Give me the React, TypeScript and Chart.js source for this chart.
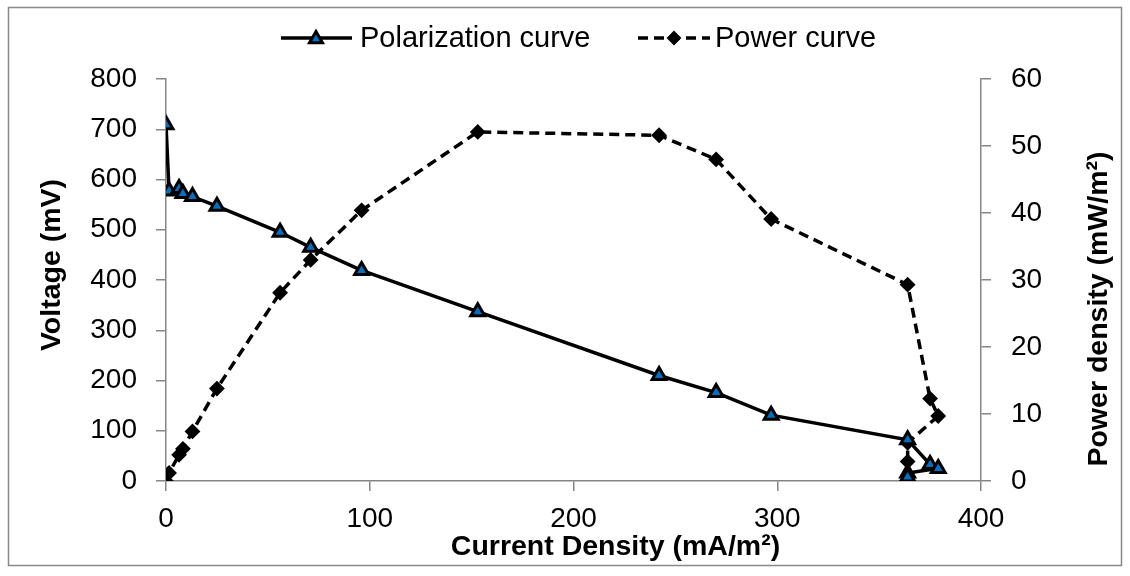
import React, { useEffect, useRef } from "react";
import { Chart, registerables } from "chart.js";

Chart.register(...registerables);

// ---- data ----
const currentDensity = [0, 1.5, 6.4, 8.3, 13, 25, 56, 71, 96, 153, 242, 270, 297, 364, 375, 379, 364, 364];
const voltage = [709, 577, 582, 572, 566, 547, 495, 465, 419, 337, 210, 176, 131, 82, 33, 25, 16, 8];
const powerDensity = [0, 1.2, 3.9, 4.8, 7.4, 13.8, 28.1, 33.0, 40.4, 52.1, 51.6, 48.0, 39.1, 29.3, 12.3, 9.7, 5.7, 2.9];

const xTickValues = [0, 100, 200, 300, 400];
const voltageTickValues = [0, 100, 200, 300, 400, 500, 600, 700, 800];
const powerTickValues = [0, 10, 20, 30, 40, 50, 60];

const seriesNames = ["Polarization curve", "Power curve"];
const xTitle = "Current Density (mA/m²)";
const yTitle = "Voltage (mV)";
const y1Title = "Power density (mW/m²)";

const FONT = "'Liberation Sans', Arial, sans-serif";
const AXIS_COLOR = "#868686";
const BLUE = "#0070C0";

const W = 1130;
const H = 576;

function drawTriangle(ctx: CanvasRenderingContext2D, x: number, y: number, r: number) {
  ctx.beginPath();
  ctx.moveTo(x, y - r);
  ctx.lineTo(x + r * 0.866, y + r * 0.5);
  ctx.lineTo(x - r * 0.866, y + r * 0.5);
  ctx.closePath();
  ctx.fillStyle = BLUE;
  ctx.fill();
  ctx.lineWidth = 3;
  ctx.strokeStyle = "#000";
  ctx.lineJoin = "miter";
  ctx.stroke();
}

function drawDiamond(ctx: CanvasRenderingContext2D, x: number, y: number, r: number) {
  ctx.beginPath();
  ctx.moveTo(x, y - r);
  ctx.lineTo(x + r, y);
  ctx.lineTo(x, y + r);
  ctx.lineTo(x - r, y);
  ctx.closePath();
  ctx.fillStyle = "#000";
  ctx.fill();
  ctx.lineWidth = 2;
  ctx.strokeStyle = "#000";
  ctx.stroke();
}

const framePlugin = {
  id: "frame",
  beforeDraw(chart: any) {
    const ctx = chart.ctx as CanvasRenderingContext2D;
    ctx.save();
    ctx.fillStyle = "#fff";
    ctx.fillRect(0, 0, chart.width, chart.height);
    ctx.strokeStyle = "#898989";
    ctx.lineWidth = 1.5;
    ctx.strokeRect(8.5, 7.5, chart.width - 17, chart.height - 18);
    ctx.restore();
  },
};

const titlesAndLegendPlugin = {
  id: "titlesAndLegend",
  afterDraw(chart: any) {
    const ctx = chart.ctx as CanvasRenderingContext2D;
    const area = chart.chartArea;
    ctx.save();
    ctx.fillStyle = "#000";
    ctx.font = `bold 28.5px ${FONT}`;
    ctx.textAlign = "center";
    ctx.textBaseline = "middle";
    // x title
    ctx.fillText(xTitle, (area.left + area.right) / 2 + 42, area.bottom + 66);
    // left y title
    ctx.save();
    ctx.translate(52, (area.top + area.bottom) / 2 - 15);
    ctx.rotate(-Math.PI / 2);
    ctx.fillText(yTitle, 0, 0);
    ctx.restore();
    // right y title
    ctx.save();
    ctx.translate(1099, (area.top + area.bottom) / 2 + 29);
    ctx.rotate(-Math.PI / 2);
    ctx.fillText(y1Title, 0, 0);
    ctx.restore();

    // legend
    const ly = 38;
    ctx.font = `29px ${FONT}`;
    ctx.textAlign = "left";
    // polarization item
    ctx.beginPath();
    ctx.setLineDash([]);
    ctx.lineWidth = 3.5;
    ctx.strokeStyle = "#000";
    ctx.moveTo(281, ly);
    ctx.lineTo(352, ly);
    ctx.stroke();
    drawTriangle(ctx, 316, ly + 1, 7.5);
    ctx.fillStyle = "#000";
    ctx.fillText(seriesNames[0], 360, ly + 1);
    // power item
    ctx.beginPath();
    ctx.setLineDash([10, 6]);
    ctx.lineWidth = 3.5;
    ctx.strokeStyle = "#000";
    ctx.moveTo(638, ly);
    ctx.lineTo(710, ly);
    ctx.stroke();
    ctx.setLineDash([]);
    drawDiamond(ctx, 674, ly, 6);
    ctx.fillStyle = "#000";
    ctx.fillText(seriesNames[1], 715, ly + 1);
    ctx.restore();
  },
};

export default function App() {
  const canvasRef = useRef<HTMLCanvasElement | null>(null);

  useEffect(() => {
    const canvas = canvasRef.current;
    if (!canvas) return;

    const polarizationPoints = currentDensity.map((x, i) => ({ x, y: voltage[i] }));
    const powerPoints = currentDensity.map((x, i) => ({ x, y: powerDensity[i] }));

    const tickFont = { family: FONT, size: 28 };

    const chart = new Chart(canvas, {
      type: "scatter",
      data: {
        datasets: [
          {
            label: seriesNames[0],
            data: polarizationPoints,
            yAxisID: "y",
            showLine: true,
            borderColor: "#000",
            borderWidth: 3.5,
            tension: 0,
            pointStyle: "triangle",
            pointRadius: 8,
            pointBackgroundColor: BLUE,
            pointBorderColor: "#000",
            pointBorderWidth: 3,
            order: 0,
          },
          {
            label: seriesNames[1],
            data: powerPoints,
            yAxisID: "y1",
            showLine: true,
            borderColor: "#000",
            borderWidth: 3.5,
            borderDash: [10, 6],
            tension: 0,
            pointStyle: "rectRot",
            pointRadius: 6.5,
            pointBackgroundColor: "#000",
            pointBorderColor: "#000",
            pointBorderWidth: 2,
            order: 1,
          },
        ],
      },
      options: {
        responsive: false,
        animation: false,
        events: [],
        layout: { padding: { top: 79, left: 0, right: 0, bottom: 0 } },
        plugins: {
          legend: { display: false },
          tooltip: { enabled: false },
          title: { display: false },
        },
        scales: {
          x: {
            type: "linear",
            position: "bottom",
            min: xTickValues[0],
            max: xTickValues[xTickValues.length - 1],
            afterBuildTicks: (scale: any) => {
              scale.ticks = xTickValues.map((v) => ({ value: v }));
            },
            afterFit: (scale: any) => {
              scale.height = H - 481;
            },
            grid: { drawOnChartArea: false, drawTicks: true, tickLength: 10, color: AXIS_COLOR, lineWidth: 1.5 },
            border: { color: AXIS_COLOR, width: 1.5 },
            ticks: { font: tickFont, color: "#000", padding: 11, maxRotation: 0 },
          },
          y: {
            type: "linear",
            position: "left",
            min: voltageTickValues[0],
            max: voltageTickValues[voltageTickValues.length - 1],
            afterBuildTicks: (scale: any) => {
              scale.ticks = voltageTickValues.map((v) => ({ value: v }));
            },
            afterFit: (scale: any) => {
              scale.width = 166;
            },
            grid: { drawOnChartArea: false, drawTicks: true, tickLength: 10, color: AXIS_COLOR, lineWidth: 1.5 },
            border: { color: AXIS_COLOR, width: 1.5 },
            ticks: { font: tickFont, color: "#000", padding: 19 },
          },
          y1: {
            type: "linear",
            position: "right",
            min: powerTickValues[0],
            max: powerTickValues[powerTickValues.length - 1],
            afterBuildTicks: (scale: any) => {
              scale.ticks = powerTickValues.map((v) => ({ value: v }));
            },
            afterFit: (scale: any) => {
              scale.width = W - 981;
            },
            grid: { drawOnChartArea: false, drawTicks: true, tickLength: 10, color: AXIS_COLOR, lineWidth: 1.5 },
            border: { color: AXIS_COLOR, width: 1.5 },
            ticks: { font: tickFont, color: "#000", padding: 20 },
          },
        },
      },
      plugins: [framePlugin, titlesAndLegendPlugin],
    } as any);

    return () => {
      chart.destroy();
    };
  }, []);

  return (
    <div style={{ position: "fixed", left: 0, top: 0, width: W, height: H, background: "#fff" }}>
      <canvas ref={canvasRef} width={W} height={H} style={{ display: "block", width: W, height: H }} />
    </div>
  );
}
